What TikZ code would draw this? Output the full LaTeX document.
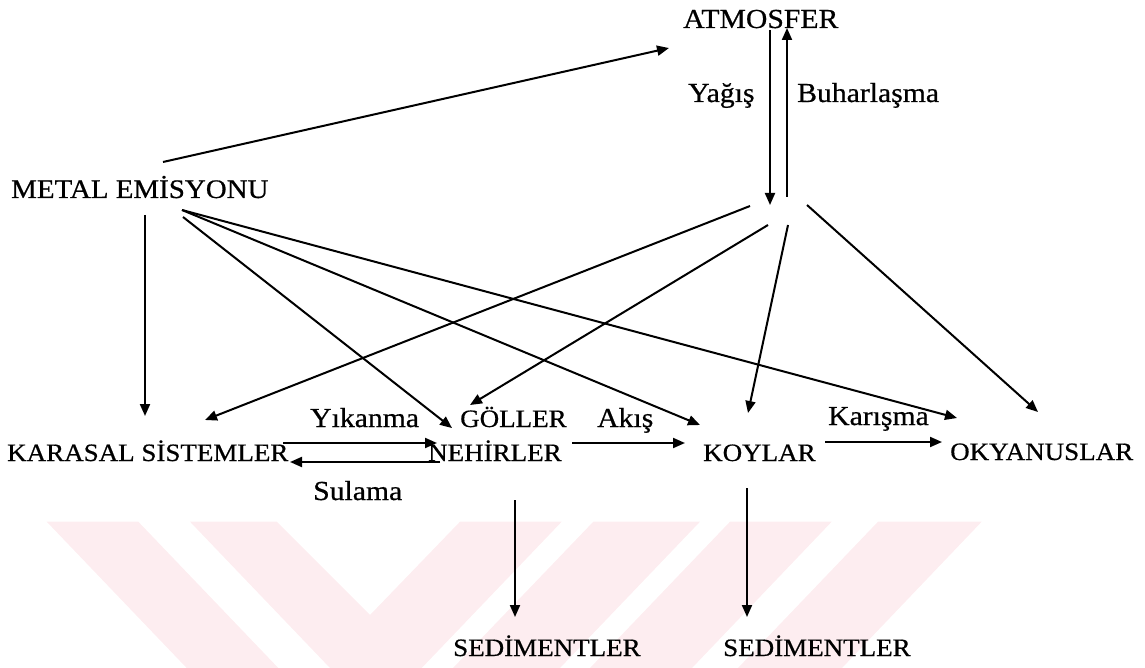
\documentclass[tikz,border=0pt]{standalone}
\usepackage{fontspec}
\setmainfont{Liberation Serif}[FakeStretch=1.08,FakeBold=0.6]
\usetikzlibrary{arrows.meta}
\definecolor{wm}{RGB}{253,237,240}
\begin{document}
\begin{tikzpicture}[x=1pt,y=-1pt,
  lbl/.style={inner sep=0pt, anchor=base west, font=\fontsize{25}{28}\selectfont},
  lab/.style={inner sep=0pt, anchor=base west, font=\fontsize{27.5}{30}\selectfont},
  conn/.style={line width=2pt, -{Triangle[length=12pt,width=10pt]}},
  ]
\useasboundingbox (0,0) rectangle (1145,668);
% watermark
\fill[wm] (46.7,521.7) -- (138.3,521.7) -- (278.3,668) -- (186.7,668) -- cycle;
\fill[wm] (190,521.7) -- (276.7,521.7) -- (370,615) -- (460,521.7) -- (561.7,521.7) -- (421.7,668) -- (330,668) -- cycle;
\fill[wm] (593.3,521.7) -- (700,521.7) -- (560,668) -- (453,668) -- cycle;
\fill[wm] (730,521.7) -- (831.7,521.7) -- (692,668) -- (590,668) -- cycle;
\fill[wm] (878,521.7) -- (981.7,521.7) -- (842,668) -- (738,668) -- cycle;
% nodes
\node[lbl, font=\fontsize{27.5}{30}\selectfont] (atm) at (683,28) {ATMOSFER};
\node[lbl, font=\fontsize{26.8}{30}\selectfont] (metal) at (11,198) {METAL EMİSYONU};
\node[lbl] (kara) at (7,461) {KARASAL SİSTEMLER};
\node[lbl] (gol) at (460,427) {GÖLLER};
\node[lbl] (neh) at (428,461) {NEHİRLER};
\node[lbl] (koy) at (703,461) {KOYLAR};
\node[lbl] (oky) at (950,460) {OKYANUSLAR};
\node[lbl] (sed1) at (453,656) {SEDİMENTLER};
\node[lbl] (sed2) at (723,656) {SEDİMENTLER};
% labels
\node[lab] (yik) at (310,427) {Yıkanma};
\node[lab] (akis) at (597,427) {Akış};
\node[lab] (kar) at (828,425) {Karışma};
\node[lab] (sul) at (313,500) {Sulama};
\node[lab] (yag) at (688,102) {Yağış};
\node[lab] (buh) at (797,102) {Buharlaşma};
% coordinates
\coordinate (mUp) at (163,162);
\coordinate (atmIn) at (669,48);
\coordinate (mDown) at (145,215);
\coordinate (karaTop) at (145,416);
\coordinate (mSteep) at (183,217);
\coordinate (golIn) at (452,428);
\coordinate (mRight) at (182,210);
\coordinate (koyIn) at (700,425);
\coordinate (okyIn) at (957,418);
\coordinate (atmDown) at (770,30);
\coordinate (hubIn) at (770,205);
\coordinate (hubUp) at (787,197);
\coordinate (atmUp) at (787,28);
\coordinate (hubA) at (750,206);
\coordinate (karaIn) at (205,420);
\coordinate (hubB) at (768,225);
\coordinate (golTop) at (470,405);
\coordinate (hubC) at (788,225);
\coordinate (koyTop) at (748,413);
\coordinate (hubD) at (807,205);
\coordinate (okyTop) at (1038,412);
\coordinate (karaR1) at (283,443);
\coordinate (nehL1) at (437,443);
\coordinate (nehL2) at (440,462);
\coordinate (karaR2) at (290,462);
\coordinate (nehR) at (572,443);
\coordinate (koyL) at (685,443);
\coordinate (koyR) at (825,442);
\coordinate (okyL) at (942,442);
\coordinate (nehB) at (515,500);
\coordinate (sed1T) at (515,617);
\coordinate (koyB) at (747,488);
\coordinate (sed2T) at (747,617);
% connectors
\draw[conn] (mUp) -- (atmIn);
\draw[conn] (mDown) -- (karaTop);
\draw[conn] (mSteep) -- (golIn);
\draw[conn] (mRight) -- (koyIn);
\draw[conn] (mRight) -- (okyIn);
\draw[conn] (atmDown) -- (hubIn);
\draw[conn] (hubUp) -- (atmUp);
\draw[conn] (hubA) -- (karaIn);
\draw[conn] (hubB) -- (golTop);
\draw[conn] (hubC) -- (koyTop);
\draw[conn] (hubD) -- (okyTop);
\draw[conn] (karaR1) -- (nehL1);
\draw[conn] (nehL2) -- (karaR2);
\draw[conn] (nehR) -- (koyL);
\draw[conn] (koyR) -- (okyL);
\draw[conn] (nehB) -- (sed1T);
\draw[conn] (koyB) -- (sed2T);
\end{tikzpicture}
\end{document}
